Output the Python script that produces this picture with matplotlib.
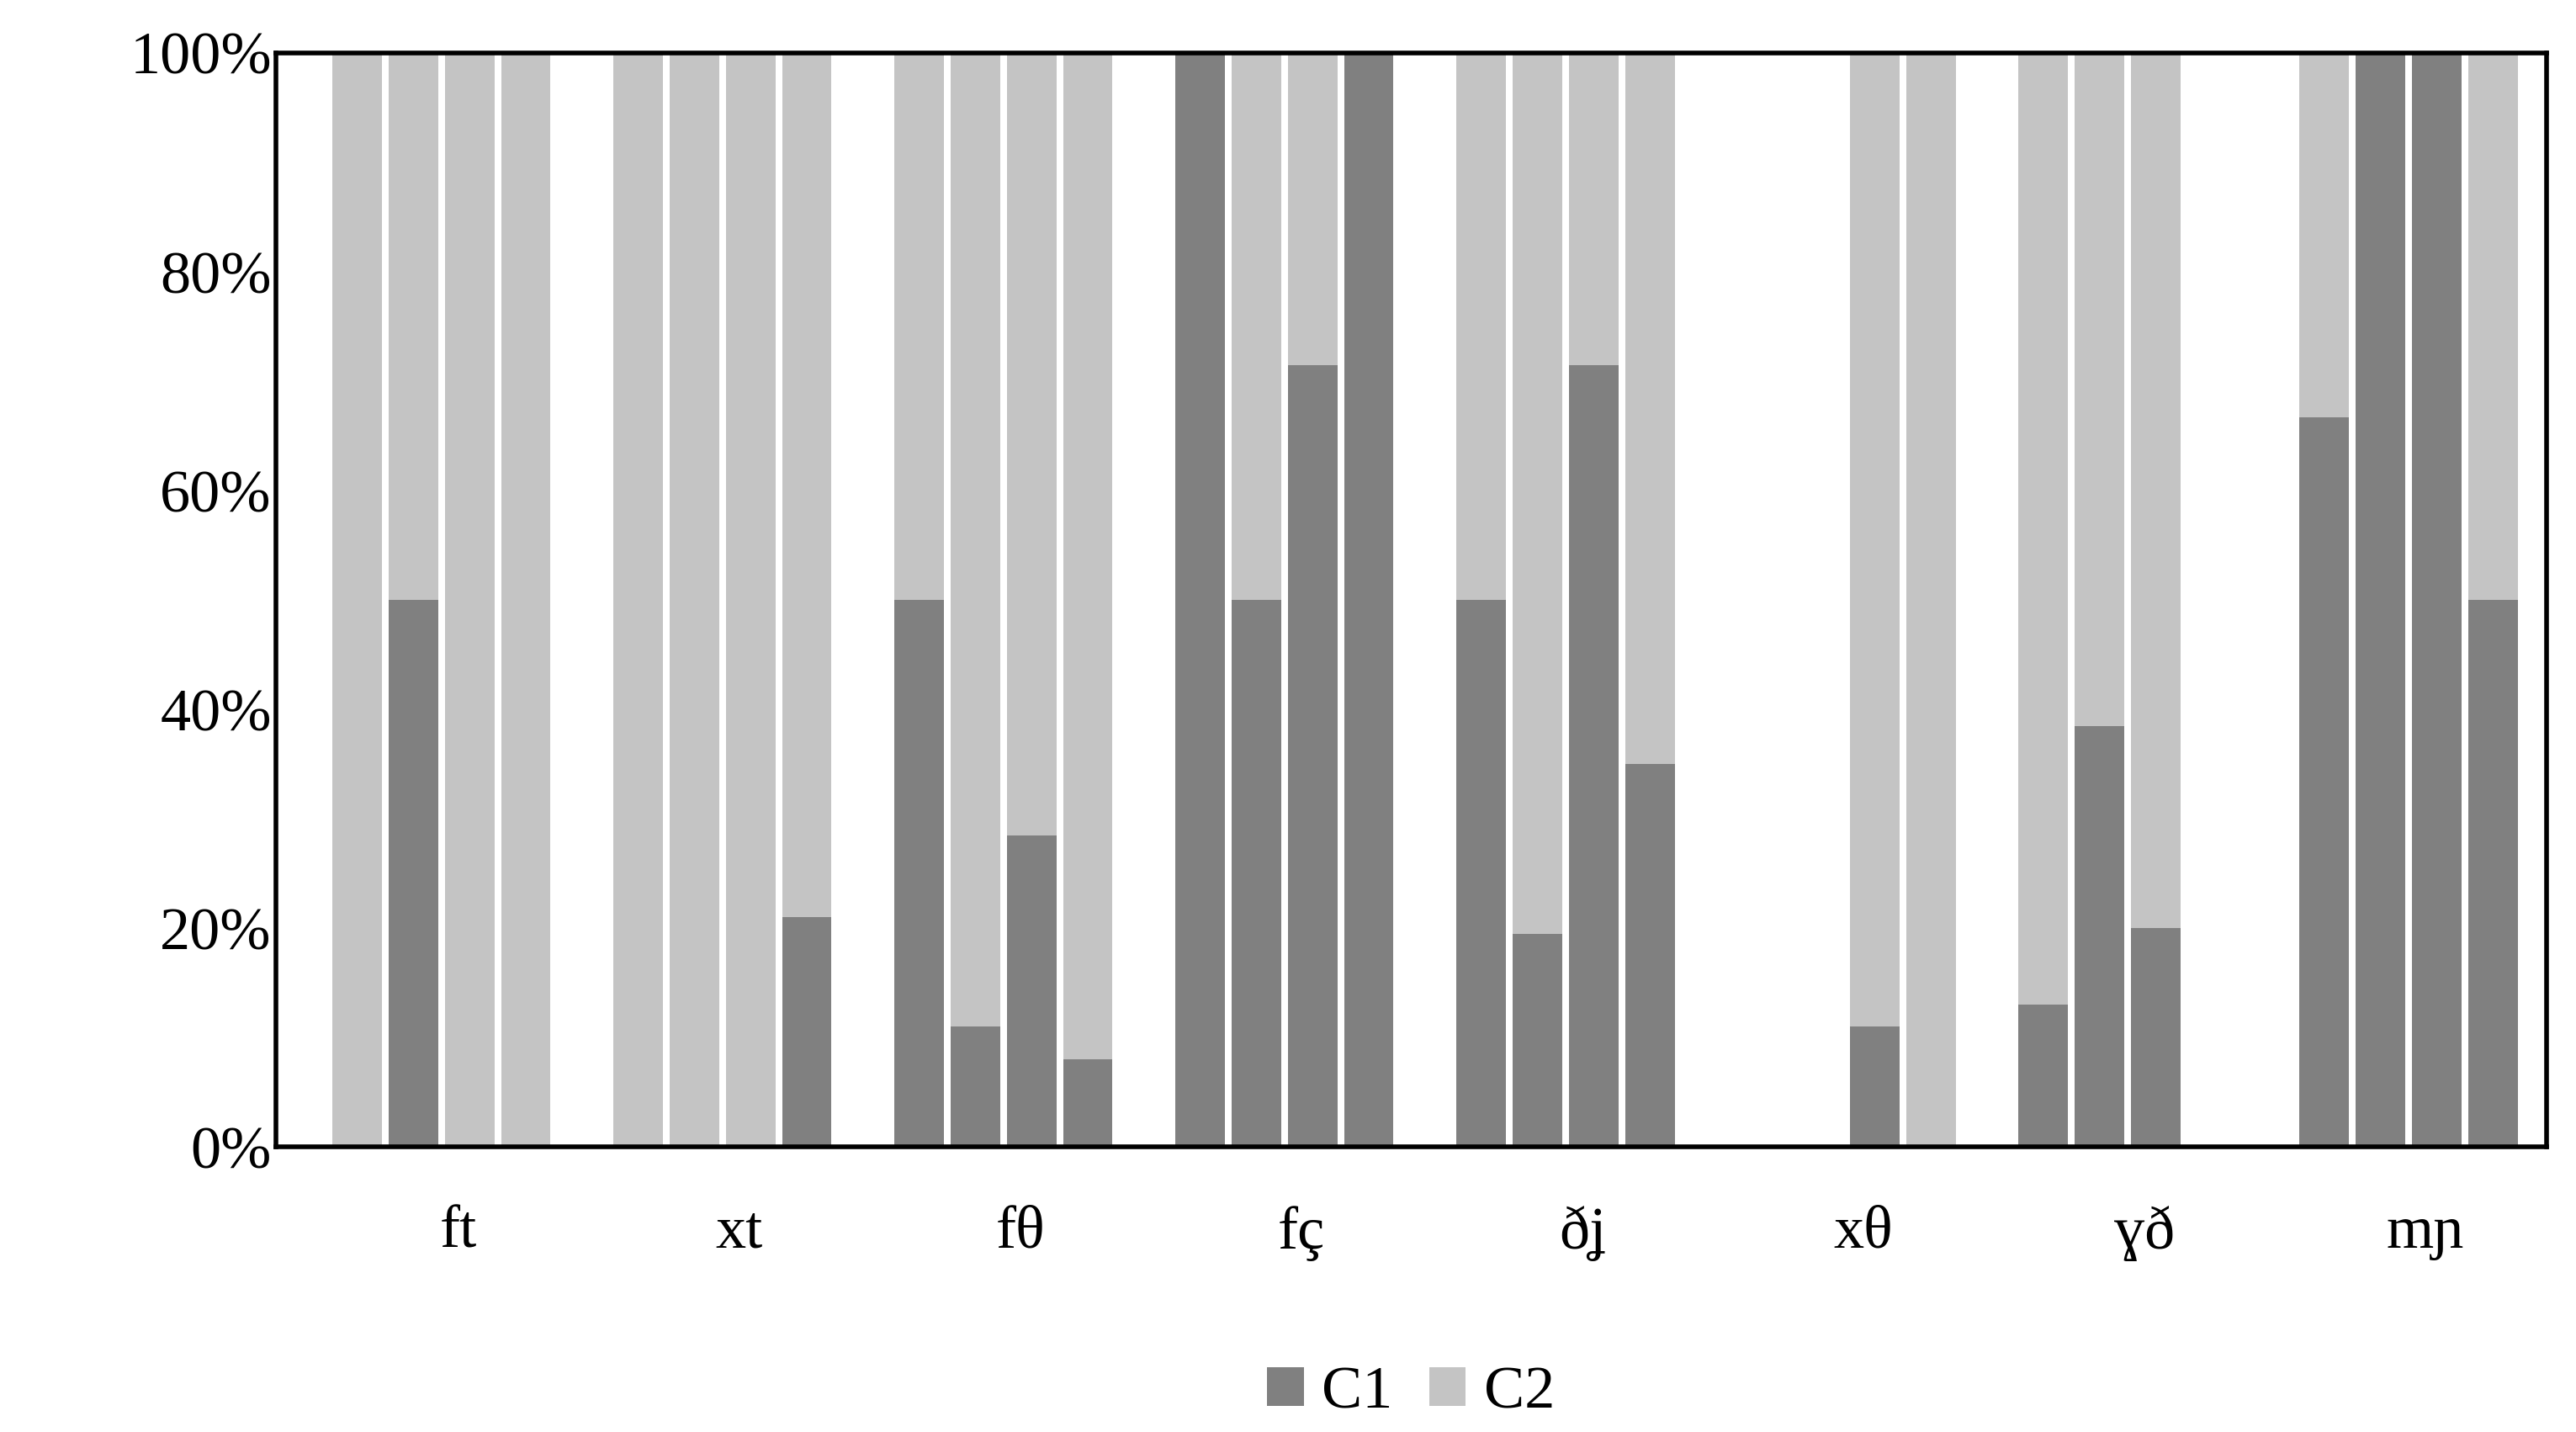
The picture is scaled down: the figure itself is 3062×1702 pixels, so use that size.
import numpy as np
import matplotlib.pyplot as plt
from matplotlib.ticker import PercentFormatter

groups = ["ft", "xt", "fθ", "fç", "ðʝ", "xθ", "ɣð", "mɲ"]
c1 = [[0, 50, 0, 0],
      [0, 0, 0, 21],
      [50, 11, 28.5, 8],
      [100, 50, 71.5, 100],
      [50, 19.5, 71.5, 35],
      [0, 0, 11, 0],
      [13, 38.5, 20, 0],
      [66.7, 100, 100, 50]]
c2 = [[100, 50, 100, 100],
      [100, 100, 100, 79],
      [50, 89, 71.5, 92],
      [0, 50, 28.5, 0],
      [50, 80.5, 28.5, 65],
      [0, 0, 89, 100],
      [87, 61.5, 80, 0],
      [33.3, 0, 0, 50]]

plt.rcParams['font.family'] = ['Liberation Serif', 'DejaVu Serif']
fig = plt.figure(figsize=(30.62, 17.02), dpi=100)
ax = fig.add_axes([0.107, 0.199, 0.8815, 0.764])

dark, light = "#808080", "#c4c4c4"
for g in range(len(groups)):
    x = g * 5 + np.arange(4)
    ax.bar(x, c1[g], width=0.88, color=dark, label="C1" if g == 0 else None)
    ax.bar(x, c2[g], bottom=c1[g], width=0.88, color=light, label="C2" if g == 0 else None)

ax.set_xlim(-1.45, 38.95)
ax.set_ylim(0, 100)
ax.set_yticks(range(0, 101, 20))
ax.yaxis.set_major_formatter(PercentFormatter(decimals=0))
ax.set_xticks([g * 5 + 1.8 for g in range(len(groups))])
ax.set_xticklabels(groups)
ax.tick_params(axis='both', length=0, labelsize=52)
ax.tick_params(axis='x', pad=50)
for s in ax.spines.values():
    s.set_linewidth(4)

ax.legend(loc='upper center', bbox_to_anchor=(0.5, -0.15), ncol=2, frameon=False,
          fontsize=52, handlelength=0.6, handleheight=0.6, columnspacing=0.6,
          handletextpad=0.3)

fig.savefig("out.png", dpi=100)
